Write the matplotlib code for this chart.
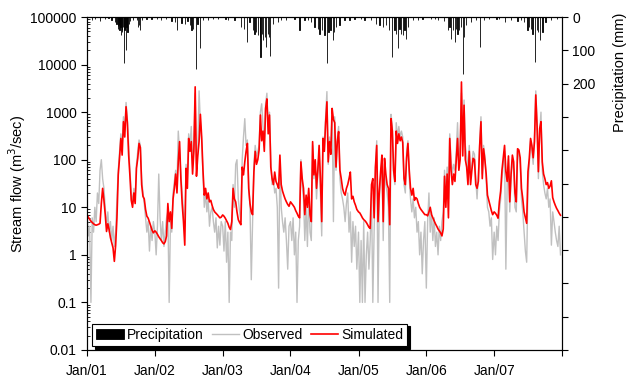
import matplotlib
matplotlib.use("Agg")
import matplotlib.pyplot as plt
import matplotlib.dates as mdates
from matplotlib.ticker import FixedLocator, NullFormatter, LogLocator
from datetime import datetime, timedelta

plt.rcParams['font.family'] = ['Liberation Sans', 'DejaVu Sans']
plt.rcParams['font.size'] = 10

years = [2001, 2002, 2003, 2004, 2005, 2006, 2007]

# weekly values (m3/sec), 52 per year
sim = {
    2001: [6.9, 6.2, 5.6, 5.1, 4.8, 4.5, 4.3, 4.2, 4.3, 4.4, 4.6, 12, 25, 14, 7, 3.1, 4.5, 3.4, 2.3, 1.8,
           1.4, 0.73, 1.6, 6, 48, 110, 280, 125, 630, 300, 1300, 600, 125, 45, 14, 10, 20, 12, 66, 107,
           220, 180, 30, 17, 15, 9, 6.5, 5.9, 4.9, 4.0, 3.3, 2.9],
    2002: [3.2, 3.0, 2.7, 2.4, 2.2, 2.0, 1.8, 1.7, 1.9, 2.5, 12, 5, 8, 3.6, 15, 25, 50, 20, 90, 240,
           40, 12, 5, 1.6, 66, 25, 280, 150, 240, 50, 150, 3400, 45, 120, 240, 900, 300, 60, 18, 25,
           15, 20, 13, 14, 11, 9, 8, 7.5, 7, 6.5, 6, 6.2],
    2003: [6.9, 6.5, 5.9, 5.2, 4.6, 3.8, 3.4, 5, 25, 15, 13, 8, 5.5, 4.8, 4.3, 70, 48, 90, 150, 220,
           25, 12, 8, 7, 55, 150, 80, 100, 160, 870, 250, 400, 150, 1200, 1900, 350, 870, 70, 40, 30,
           55, 35, 30, 25, 125, 30, 22, 18, 15, 13, 11.5, 10.5],
    2004: [13, 12, 11, 10, 8.5, 7.5, 6.5, 6, 90, 40, 25, 7, 18, 10, 25, 7, 5, 240, 48, 100,
           25, 60, 200, 40, 5, 280, 150, 600, 1650, 90, 240, 130, 1200, 700, 600, 70, 240, 390, 60, 40,
           25, 20, 18, 25, 30, 40, 55, 15, 17, 13, 11, 9],
    2005: [8, 7.6, 6.8, 6, 5.5, 5.2, 4.8, 4.3, 3.8, 3.6, 30, 40, 6, 70, 200, 5, 22, 56, 125, 5,
           107, 50, 30, 25, 4.3, 730, 400, 60, 35, 400, 220, 350, 250, 300, 230, 40, 30, 110, 220, 60,
           25, 18, 25, 14, 16, 15, 12, 10, 9, 8.3, 7.6, 7],
    2006: [7, 6.6, 8, 10, 7, 6, 5.2, 4.5, 4, 3.5, 3.2, 2.9, 2.5, 3.5, 45, 10, 50, 6, 280, 60,
           30, 50, 35, 100, 280, 60, 100, 4300, 120, 1400, 100, 70, 30, 150, 30, 60, 107, 100, 30, 25,
           35, 200, 630, 40, 170, 100, 50, 18, 14, 11, 8.5, 7],
    2007: [8, 7.5, 6.8, 5.9, 13, 22, 60, 110, 200, 56, 35, 120, 13, 50, 125, 90, 20, 13, 170, 160,
           110, 25, 15, 8, 6, 4.6, 56, 107, 280, 200, 110, 240, 2300, 500, 56, 450, 630, 90, 50, 40,
           30, 33, 25, 28, 36, 16, 13, 11, 9.5, 8.5, 7.5, 6.8],
}

obs = {
    2001: [8, 2.5, 4, 0.1, 6, 3, 10, 5, 20, 12, 60, 100, 40, 25, 10, 4, 8, 3, 5, 2,
           4, 1.5, 3, 15, 60, 150, 350, 200, 800, 400, 1600, 700, 200, 60, 20, 12, 25, 15, 80, 150,
           260, 200, 40, 20, 12, 6, 3, 5, 1.2, 4, 2, 5],
    2002: [3, 1.0, 4, 50, 6, 2, 5, 1.5, 3, 6, 8, 0.1, 5, 3, 20, 35, 60, 30, 400, 150,
           50, 20, 8, 4, 80, 40, 350, 200, 500, 80, 200, 2500, 80, 150, 2800, 600, 250, 50, 10, 20,
           8, 15, 4, 8, 10, 5, 3, 6, 1.4, 4, 1.6, 5],
    2003: [4, 1.2, 5, 0.7, 3, 0.1, 3, 2, 30, 10, 80, 100, 15, 8, 5, 100, 300, 730, 200, 260,
           30, 10, 0.3, 5, 80, 200, 120, 150, 200, 1000, 1500, 500, 200, 1500, 2500, 500, 1000, 100, 30, 40,
           20, 25, 10, 0.2, 100, 10, 5, 3, 6, 2, 0.5, 4],
    2004: [5, 2, 6, 1, 3, 0.1, 2, 4, 100, 30, 15, 2, 10, 1.5, 20, 3, 2, 200, 40, 80,
           15, 50, 150, 20, 2.5, 300, 150, 800, 2700, 80, 300, 150, 1000, 5, 800, 60, 300, 500, 40, 20,
           15, 10, 5, 12, 20, 3, 8, 0.7, 5, 1.5, 4, 0.5],
    2005: [3, 0.1, 2, 0.1, 5, 0.1, 1, 3, 0.5, 2, 20, 0.1, 3, 60, 250, 0.1, 15, 40, 100, 2,
           80, 30, 20, 10, 0.1, 900, 500, 50, 30, 600, 300, 500, 300, 400, 300, 30, 20, 150, 250, 40,
           15, 8, 15, 6, 10, 3, 5, 1, 3, 0.4, 2, 5],
    2006: [0.2, 5, 20, 3, 8, 2, 6, 1.5, 3, 1, 4, 2, 5, 8, 60, 20, 70, 15, 350, 100,
           50, 80, 60, 150, 600, 100, 200, 2500, 300, 1800, 200, 120, 60, 200, 50, 80, 150, 130, 40, 15,
           50, 200, 800, 50, 200, 120, 40, 10, 8, 4, 6, 0.8],
    2007: [3, 1, 4, 2, 8, 15, 40, 80, 150, 0.5, 30, 100, 8, 40, 100, 60, 10, 8, 150, 120,
           80, 15, 8, 3, 1.2, 0.7, 30, 80, 250, 150, 80, 300, 2800, 600, 40, 400, 1000, 60, 30, 20,
           15, 25, 10, 15, 1.6, 8, 5, 3, 2, 1.5, 4, 1.0],
}

# daily rainfall events (day of year, mm)
rain = {
    2001: [(25, 8), (43, 5), (70, 12), (97, 6), (115, 4), (132, 8), (150, 15), (159, 20), (165, 28), (168, 35),
           (172, 25), (175, 40), (180, 30), (183, 55), (187, 38), (190, 45), (194, 30), (199, 137), (202, 40),
           (204, 35), (209, 100), (212, 30), (218, 45), (225, 20), (231, 12), (249, 8), (267, 10), (276, 30),
           (280, 25), (285, 40), (294, 8), (320, 6), (347, 5)],
    2002: [(10, 5), (35, 8), (60, 6), (89, 12), (107, 15), (120, 40), (143, 18), (161, 20), (175, 12),
           (188, 25), (197, 40), (206, 35), (220, 157), (229, 20), (242, 94), (260, 10), (286, 8), (313, 6),
           (340, 5)],
    2003: [(15, 5), (29, 8), (64, 10), (100, 30), (115, 35), (131, 76), (145, 15), (163, 40), (172, 50),
           (181, 45), (190, 55), (199, 60), (204, 119), (211, 50), (217, 70), (226, 60), (234, 90), (243, 50),
           (249, 60), (256, 116), (270, 20), (297, 15), (315, 10), (342, 8)],
    2004: [(21, 6), (48, 40), (75, 10), (95, 8), (111, 15), (129, 30), (147, 35), (156, 50), (168, 40),
           (183, 55), (195, 137), (204, 45), (215, 40), (227, 70), (236, 45), (245, 30), (263, 25), (290, 10),
           (317, 8), (344, 6)],
    2005: [(12, 5), (32, 8), (68, 10), (95, 20), (113, 25), (131, 30), (149, 25), (166, 40), (181, 119),
           (193, 40), (202, 50), (211, 94), (220, 35), (229, 50), (238, 55), (247, 40), (256, 65), (265, 30),
           (292, 10), (319, 8), (345, 6)],
    2006: [(25, 6), (45, 5), (61, 10), (97, 12), (115, 40), (124, 30), (132, 65), (143, 40), (154, 75),
           (161, 35), (168, 50), (177, 40), (186, 30), (199, 172), (204, 60), (213, 25), (240, 15), (267, 10),
           (290, 89), (311, 8), (338, 6)],
    2007: [(12, 5), (27, 6), (57, 15), (90, 10), (125, 12), (145, 8), (161, 15), (179, 40), (188, 30),
           (197, 35), (206, 50), (218, 134), (229, 40), (236, 45), (247, 70), (260, 45), (277, 15), (304, 8),
           (340, 6)],
}

dates, q_obs, q_sim = [], [], []
for yr in years:
    for w in range(52):
        dates.append(datetime(yr, 1, 1) + timedelta(days=7 * w))
        q_obs.append(obs[yr][w])
        q_sim.append(sim[yr][w])

p_dates, p_mm = [], []
for yr in years:
    for doy, mm in rain[yr]:
        p_dates.append(datetime(yr, 1, 1) + timedelta(days=doy))
        p_mm.append(mm)

fig = plt.figure(figsize=(6.27, 3.78), dpi=100)
ax = fig.add_axes([0.1388, 0.0741, 0.7575, 0.8809])

l_obs, = ax.plot(dates, q_obs, color='#c0c0c0', lw=1.0, label='Observed', zorder=2)
l_sim, = ax.plot(dates, q_sim, color='red', lw=1.2, label='Simulated', zorder=3)

ax.set_yscale('log')
ax.set_ylim(0.01, 100000)
ax.yaxis.set_major_locator(FixedLocator([0.01, 0.1, 1, 10, 100, 1000, 10000, 100000]))
ax.set_yticklabels(['0.01', '0.1', '1', '10', '100', '1000', '10000', '100000'])
ax.yaxis.set_minor_locator(LogLocator(base=10, subs=range(2, 10), numticks=20))
ax.yaxis.set_minor_formatter(NullFormatter())
ax.tick_params(axis='y', which='major', direction='out', length=4, labelsize=10)
ax.tick_params(axis='y', which='minor', direction='in', length=2)
ax.set_ylabel('Stream flow (m$^3$/sec)', fontsize=10.5)
ax.yaxis.set_label_coords(-0.125, 0.5)

ax.set_xlim(datetime(2001, 1, 1), datetime(2008, 1, 1))
ax.xaxis.set_major_locator(mdates.YearLocator())
ax.xaxis.set_major_formatter(mdates.DateFormatter('%b/%y'))
ax.tick_params(axis='x', direction='out', length=4, labelsize=10, pad=6)
xt = ax.get_xticklabels()
if xt:
    xt[-1].set_visible(False)

ax2 = ax.twinx()
bars = ax2.bar(p_dates, p_mm, width=1.5, color='black', edgecolor='black', linewidth=0.6,
               label='Precipitation', zorder=2)
ax2.set_ylim(1000, 0)
ax2.set_yticks(range(0, 1001, 100))
ax2.set_yticklabels(['0', '100', '200'] + [''] * 8)
ax2.tick_params(axis='y', direction='out', length=4, labelsize=10)
ax2.set_ylabel('Precipitation (mm)', fontsize=10.5)
ax2.yaxis.set_label_coords(1.108, 0.835)

for a in (ax, ax2):
    for s in a.spines.values():
        s.set_linewidth(0.8)

leg = ax2.legend([bars, l_obs, l_sim], ['Precipitation', 'Observed', 'Simulated'],
                 loc='lower left', bbox_to_anchor=(0.01, 0.012), ncol=3, fontsize=10,
                 frameon=True, fancybox=False, shadow={'color': 'black', 'alpha': 1},
                 edgecolor='black', handlelength=2.0, handletextpad=0.2, columnspacing=0.6,
                 borderpad=0.3, borderaxespad=0)
leg.get_frame().set_linewidth(0.8)

fig.savefig('out.png', dpi=100)
